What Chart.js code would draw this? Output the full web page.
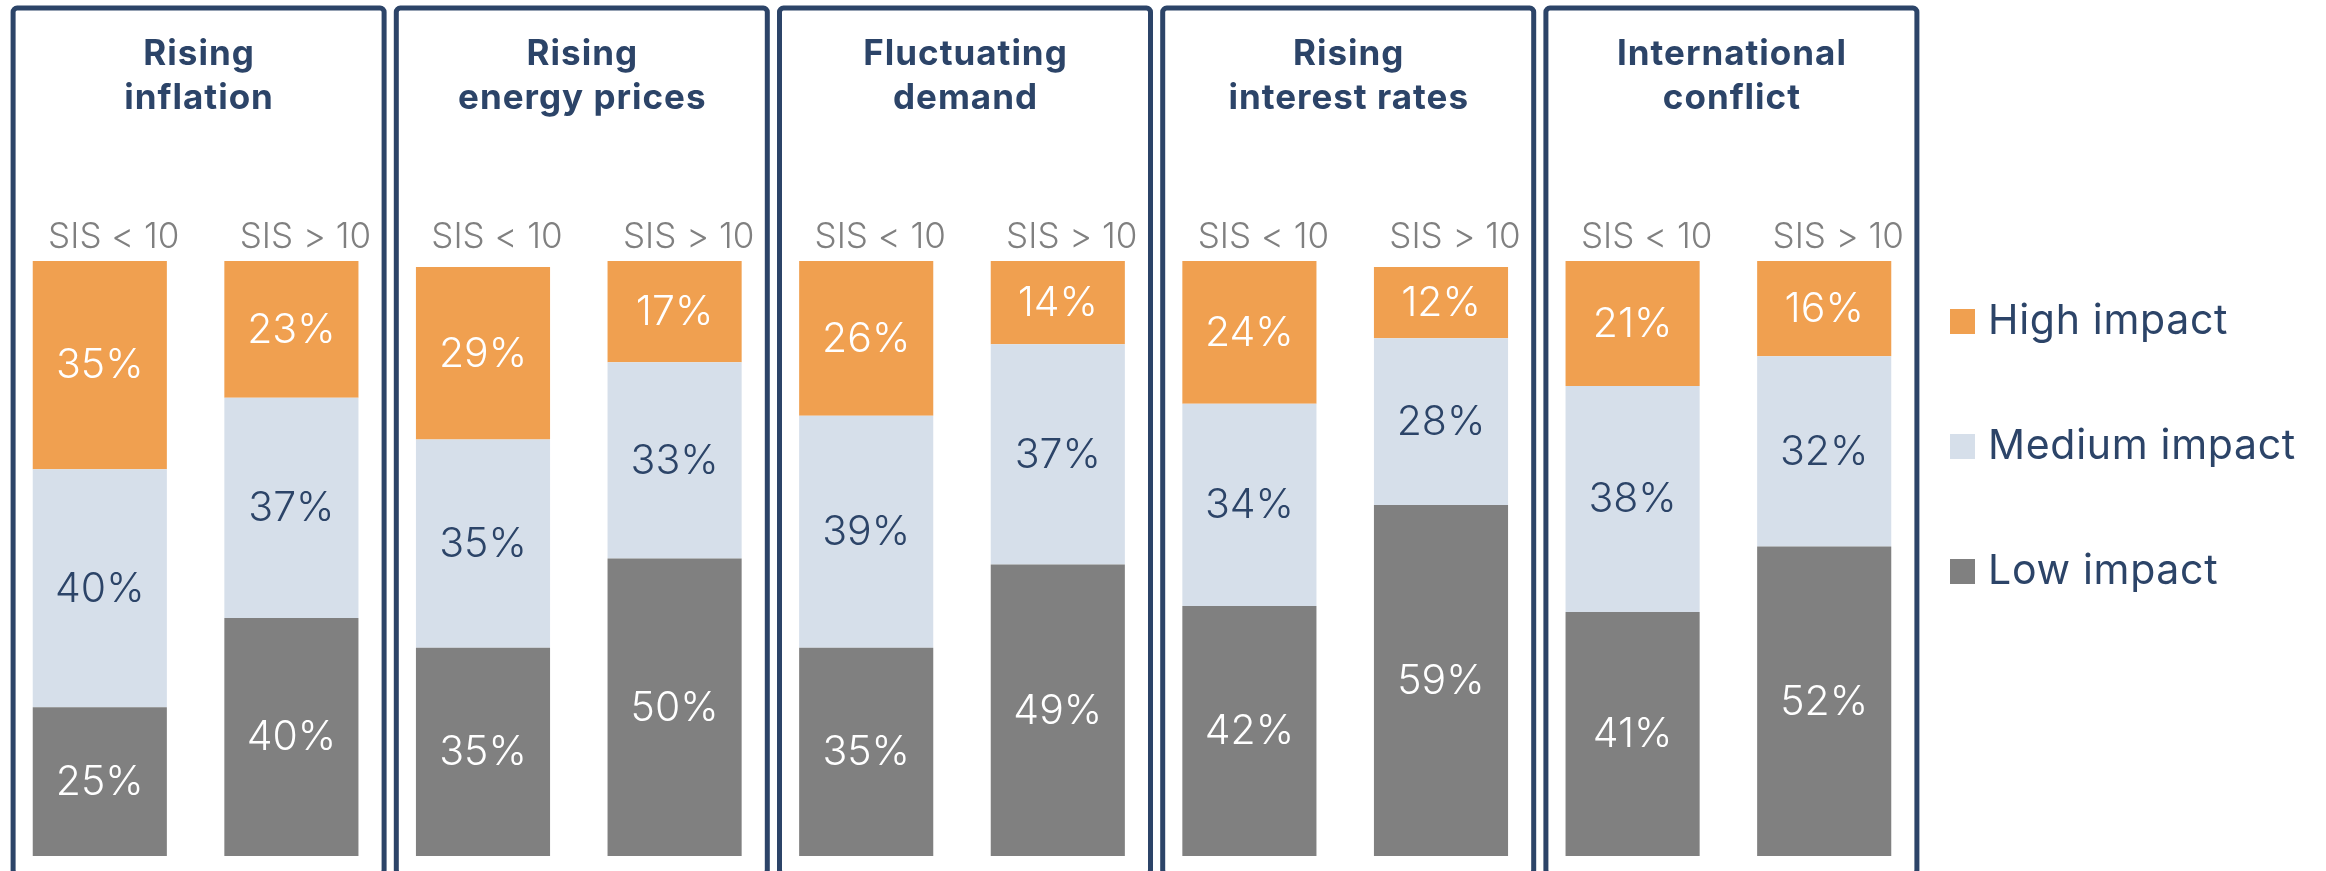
<!DOCTYPE html>
<html>
<head>
<meta charset="utf-8">
<script src="https://cdn.jsdelivr.net/npm/chart.js@4/dist/chart.umd.min.js"></script>
<style>
  html, body { margin: 0; padding: 0; background: #ffffff; }
  #wrap { width: 2326px; height: 871px; }
</style>
</head>
<body>
<div id="wrap"><canvas id="chart" width="2326" height="871"></canvas></div>
<script>
// Business risks, split by company size (SIS < 10 vs SIS > 10)
const topics = [
  ['Rising', 'inflation'],
  ['Rising', 'energy prices'],
  ['Fluctuating', 'demand'],
  ['Rising', 'interest rates'],
  ['International', 'conflict']
];
const groups = ['SIS < 10', 'SIS > 10'];

// one value per bar, two bars per topic
const highImpact   = [35, 23, 29, 17, 26, 14, 24, 12, 21, 16];
const mediumImpact = [40, 37, 35, 33, 39, 37, 34, 28, 38, 32];
const lowImpact    = [25, 40, 35, 50, 35, 49, 42, 59, 41, 52];

const seriesNames = ['High impact', 'Medium impact', 'Low impact'];

const NAVY = '#2C4468';
const ORANGE = '#F0A050';
const LIGHT = '#D6DFEA';
const GREY = '#808080';
const FONT = 'Inter, "DejaVu Sans", sans-serif';

const labels = [];
topics.forEach(t => groups.forEach(g => labels.push(t.join(' ') + ' – ' + g)));

function spacedText(ctx, text, x, y, spacing) {
  ctx.letterSpacing = spacing + 'px';
  // trailing spacing shifts centred text; compensate
  const shift = ctx.textAlign === 'center' ? spacing / 2 : 0;
  ctx.fillText(text, x + shift, y);
  ctx.letterSpacing = '0px';
}

const panelPlugin = {
  id: 'panels',
  beforeDatasetsDraw(chart) {
    const ctx = chart.ctx;
    const x = chart.scales.x;
    ctx.save();
    topics.forEach((t, i) => {
      const cx = (x.getPixelForValue(2 * i) + x.getPixelForValue(2 * i + 1)) / 2 + 3;
      const half = 185.5;
      ctx.strokeStyle = NAVY;
      ctx.lineWidth = 5;
      ctx.beginPath();
      ctx.roundRect(cx - half, 8, half * 2, 866, 4);
      ctx.stroke();

      ctx.fillStyle = NAVY;
      ctx.font = 'bold 35px ' + FONT;
      ctx.textAlign = 'center';
      ctx.textBaseline = 'alphabetic';
      spacedText(ctx, t[0], cx, 65, 1);
      spacedText(ctx, t[1], cx, 109, 1);

      ctx.fillStyle = GREY;
      ctx.font = '300 35px ' + FONT;
      groups.forEach((g, j) => {
        ctx.fillText(g, x.getPixelForValue(2 * i + j) + 14, 248);
      });
    });
    ctx.restore();
  },
  afterDatasetsDraw(chart) {
    const ctx = chart.ctx;
    ctx.save();
    ctx.font = '300 41px ' + FONT;
    ctx.textAlign = 'center';
    ctx.textBaseline = 'middle';
    chart.data.datasets.forEach((ds, di) => {
      const meta = chart.getDatasetMeta(di);
      meta.data.forEach((bar, k) => {
        ctx.fillStyle = ds.labelColor;
        ctx.fillText(ds.data[k] + '%', bar.x, (bar.y + bar.base) / 2 + 1);
      });
    });

    // legend, top entry first
    const entries = [
      [seriesNames[0], ORANGE, 321],
      [seriesNames[1], LIGHT, 446],
      [seriesNames[2], GREY, 571]
    ];
    ctx.textAlign = 'left';
    ctx.textBaseline = 'alphabetic';
    ctx.font = '400 41px ' + FONT;
    entries.forEach(([name, color, cy]) => {
      ctx.fillStyle = color;
      ctx.fillRect(1950, cy - 12, 25, 25);
      ctx.fillStyle = NAVY;
      spacedText(ctx, name, 1988, cy + 13, 0.7);
    });
    ctx.restore();
  }
};

new Chart(document.getElementById('chart'), {
  type: 'bar',
  data: {
    labels: labels,
    datasets: [
      { label: seriesNames[2], data: lowImpact, backgroundColor: GREY, labelColor: '#FFFFFF' },
      { label: seriesNames[1], data: mediumImpact, backgroundColor: LIGHT, labelColor: NAVY },
      { label: seriesNames[0], data: highImpact, backgroundColor: ORANGE, labelColor: '#FFFFFF' }
    ]
  },
  options: {
    responsive: false,
    animation: false,
    devicePixelRatio: 1,
    layout: { padding: { left: 4, right: 406, top: 261, bottom: 15 } },
    datasets: { bar: { barPercentage: 0.7, categoryPercentage: 1.0, borderWidth: 0 } },
    plugins: { legend: { display: false }, tooltip: { enabled: false } },
    scales: {
      x: { stacked: true, display: false },
      y: { stacked: true, display: false, min: 0, max: 100 }
    }
  },
  plugins: [panelPlugin]
});
</script>
</body>
</html>
